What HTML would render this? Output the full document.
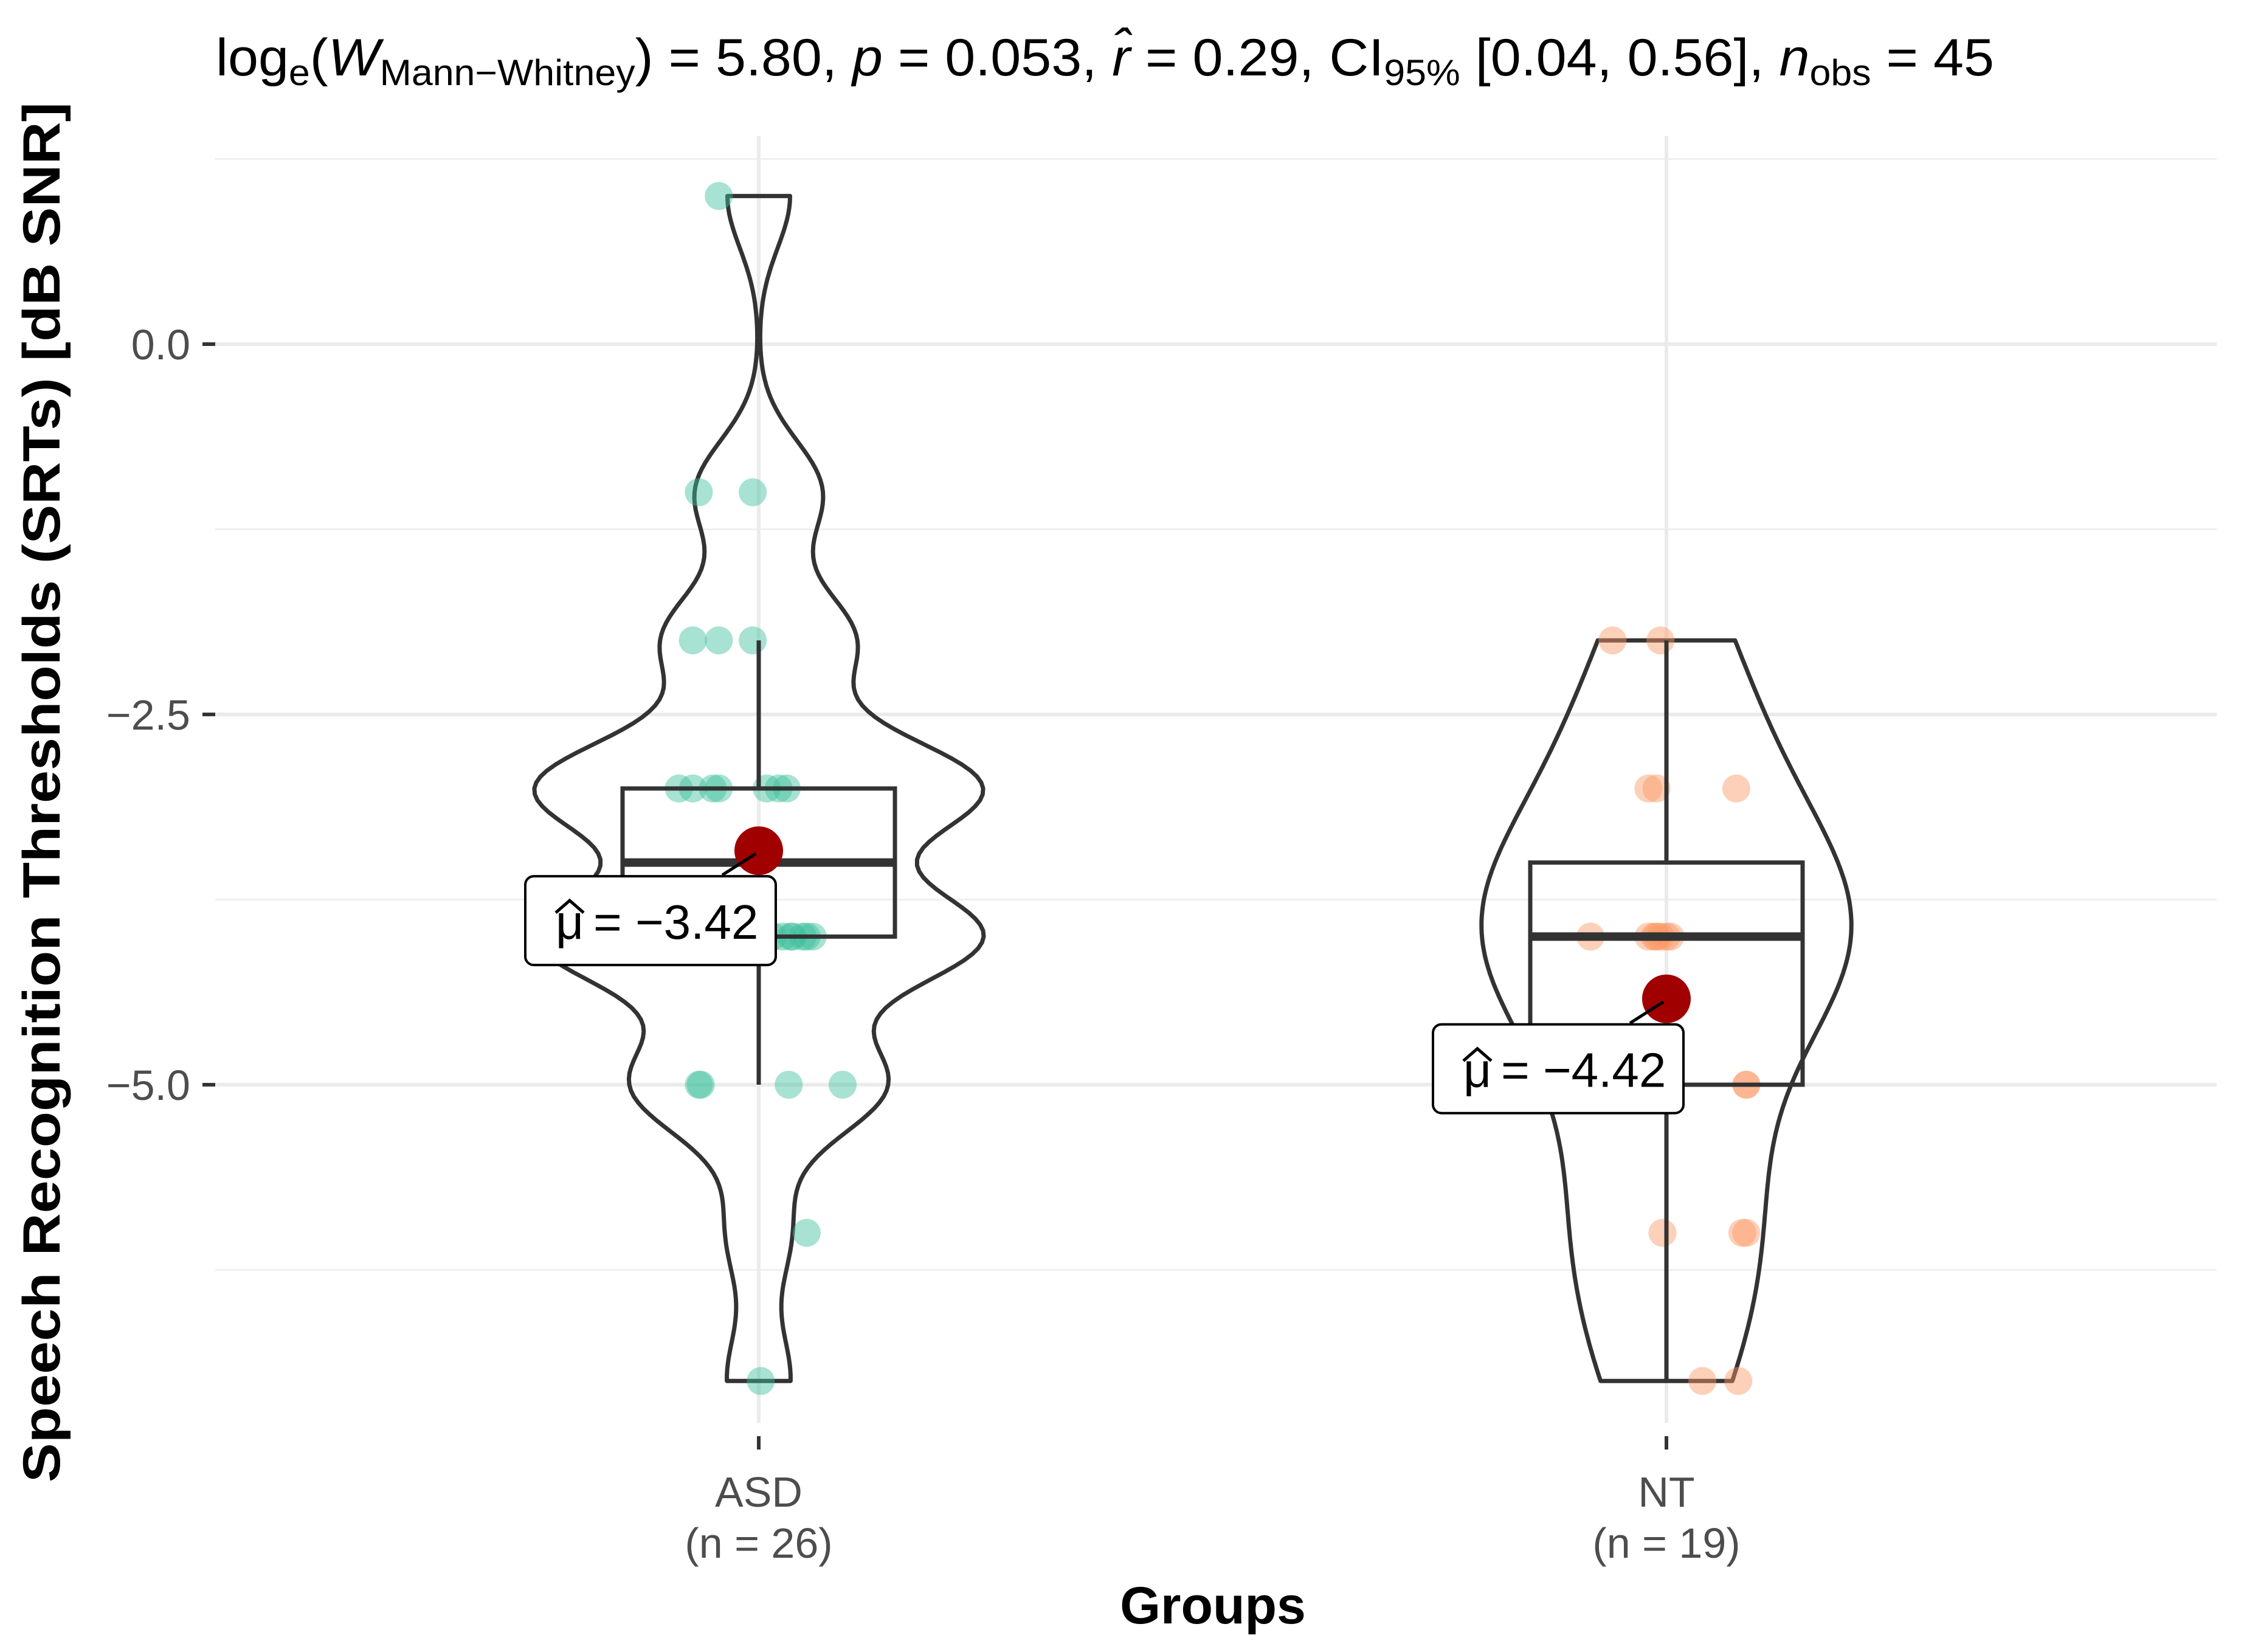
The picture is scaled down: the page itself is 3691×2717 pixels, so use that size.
<!DOCTYPE html>
<html><head><meta charset="utf-8"><style>
html,body{margin:0;padding:0;background:#fff}
svg{display:block}
text{font-family:"Liberation Sans",sans-serif}
</style></head><body>
<svg id="chart" width="3691" height="2717" viewBox="0 0 3691 2717" xmlns="http://www.w3.org/2000/svg">
<g id="grid"></g>
<g id="marks"></g>
<text x="355" y="124" font-size="86" fill="#000" textLength="2925" lengthAdjust="spacingAndGlyphs">log<tspan font-size="60" dy="16">e</tspan><tspan dy="-16">(</tspan><tspan font-style="italic">W</tspan><tspan font-size="60" dy="16">Mann−Whitney</tspan><tspan dy="-16">) = 5.80, </tspan><tspan font-style="italic">p</tspan> = 0.053, <tspan font-style="italic">r̂</tspan> = 0.29, CI<tspan font-size="60" dy="16">95%</tspan><tspan dy="-16"> [0.04, 0.56], </tspan><tspan font-style="italic">n</tspan><tspan font-size="60" dy="16">obs</tspan><tspan dy="-16"> = 45</tspan></text>
<text transform="translate(98,1303) rotate(-90)" text-anchor="middle" font-size="86" font-weight="bold" textLength="2270" lengthAdjust="spacingAndGlyphs">Speech Recognition Thresholds (SRTs) [dB SNR]</text>
<text x="1995" y="2670" text-anchor="middle" font-size="86" font-weight="bold">Groups</text>
</svg>
<script>
const categories = ["ASD", "NT"];
const groupN = [26, 19];
const asdValues = [1, -1, -1, -2, -2, -2, -3, -3, -3, -3, -3, -3, -3, -4, -4, -4, -4, -4, -4, -4, -5, -5, -5, -5, -6, -7];
const asdJitter = [-0.02, -0.03, -0.003, -0.033, -0.02, -0.003, -0.04, -0.033, -0.023, -0.02, 0.004, 0.01, 0.014, 0.007, 0.012, 0.017, 0.024, 0.027, 0.022, 0.016, -0.03, -0.029, 0.015, 0.042, 0.024, 0.001];
const ntValues = [-2, -2, -3, -3, -3, -4, -4, -4, -4, -4, -4, -4, -5, -5, -6, -6, -6, -7, -7];
const ntJitter = [-0.027, -0.003, -0.009, -0.005, 0.035, -0.038, -0.009, -0.005, 0, -0.003, -0.006, 0.002, 0.04, 0.04, -0.002, 0.04, 0.038, 0.018, 0.036];
const boxQ1 = [-4, -5];
const boxMedian = [-3.5, -4];
const boxQ3 = [-3, -3.5];
const whiskerLow = [-5, -7];
const whiskerHigh = [-2, -2];
const means = [-3.42, -4.42];
const meanLabels = ["−3.42", "−4.42"];
const yTicks = [0, -2.5, -5];
const yTickLabels = ["0.0", "−2.5", "−5.0"];
const yMinor = [1.25, -1.25, -3.75, -6.25];

const NS = "http://www.w3.org/2000/svg";
const X0 = 1248, XSTEP = 1493;
function xScale(i){ return X0 + i * XSTEP; }
function yScale(v){ return 566 - 243.6 * v; }
const JITTER_PX = 3285;
function mk(tag, attrs, parent){ const e = document.createElementNS(NS, tag); for (const k in attrs) e.setAttribute(k, attrs[k]); parent.appendChild(e); return e; }
const grid = document.getElementById('grid'), marks = document.getElementById('marks');
const PL = 354, PR = 3646;

yMinor.forEach(v => {
  const l = mk('line', {x1: PL, x2: PR, y1: yScale(v), y2: yScale(v), stroke: '#efefef', 'stroke-width': 3}, grid);
  
  
});
yTicks.forEach((v, i) => {
  const l = mk('line', {x1: PL, x2: PR, y1: yScale(v), y2: yScale(v), stroke: '#ebebeb', 'stroke-width': 6}, grid);
  
  
  const t = mk('line', {x1: 333, x2: 354, y1: yScale(v), y2: yScale(v), stroke: '#333', 'stroke-width': 6}, grid);
  
  
  const tx = mk('text', {x: 313, y: yScale(v) + 25, 'text-anchor': 'end', 'font-size': 70, fill: '#4d4d4d'}, grid);
  tx.textContent = yTickLabels[i];
  
  
});
categories.forEach((c, i) => {
  const x = xScale(i);
  const l = mk('line', {x1: x, x2: x, y1: 224, y2: 2340, stroke: '#ebebeb', 'stroke-width': 6}, grid);
  
  
  const t = mk('line', {x1: x, x2: x, y1: 2362, y2: 2384, stroke: '#333', 'stroke-width': 6}, grid);
  
  
  const a = mk('text', {x: x, y: 2478, 'text-anchor': 'middle', 'font-size': 70, fill: '#4d4d4d'}, grid);
  a.textContent = c;
  
  
  const b = mk('text', {x: x, y: 2562, 'text-anchor': 'middle', 'font-size': 70, fill: '#4d4d4d'}, grid);
  b.textContent = '(n = ' + groupN[i] + ')';
  
  
});

function kde(vals){
  const n = vals.length, m = vals.reduce((a, b) => a + b, 0) / n;
  const sd = Math.sqrt(vals.reduce((a, b) => a + (b - m) * (b - m), 0) / (n - 1));
  const s = vals.slice().sort((a, b) => a - b);
  const q = p => { const h = (n - 1) * p, lo = Math.floor(h); return s[lo] + (h - lo) * ((s[lo + 1] ?? s[lo]) - s[lo]); };
  const iqr = q(0.75) - q(0.25);
  const bw = 0.9 * Math.min(sd, iqr / 1.34) * Math.pow(n, -0.2);
  const lo = s[0], hi = s[n - 1], pts = [];
  for (let k = 0; k <= 200; k++) {
    const y = lo + (hi - lo) * k / 200;
    let d = 0; vals.forEach(v => { const z = (y - v) / bw; d += Math.exp(-0.5 * z * z); });
    pts.push([y, d / (n * bw * Math.sqrt(2 * Math.PI))]);
  }
  return pts;
}
const groupValues = [asdValues, ntValues];
const groupJitter = [asdJitter, ntJitter];
const dens = groupValues.map(kde);
const maxD = Math.max(...dens.map(p => Math.max(...p.map(q => q[1]))));
dens.forEach((p, i) => {
  const cx = xScale(i);
  const w = d => d / maxD * 370;
  let path = p.map((q, k) => (k ? 'L' : 'M') + (cx + w(q[1])).toFixed(1) + ',' + yScale(q[0]).toFixed(1)).join('');
  path += p.slice().reverse().map(q => 'L' + (cx - w(q[1])).toFixed(1) + ',' + yScale(q[0]).toFixed(1)).join('') + 'Z';
  const e = mk('path', {d: path, fill: 'none', stroke: '#333', 'stroke-width': 7, 'stroke-linejoin': 'round'}, marks);
  
  
});
const pointColors = ['rgba(60,190,155,0.45)', 'rgba(250,150,100,0.45)'];
groupValues.forEach((vals, i) => {
  vals.forEach((v, k) => {
    const c = mk('circle', {cx: xScale(i) + groupJitter[i][k] * JITTER_PX, cy: yScale(v), r: 23, fill: pointColors[i]}, marks);
    
    
  });
});
categories.forEach((c, i) => {
  const cx = xScale(i), hw = 224;
  const g = mk('g', {}, marks);
  
  
  mk('line', {x1: cx, x2: cx, y1: yScale(whiskerHigh[i]), y2: yScale(boxQ3[i]), stroke: '#333', 'stroke-width': 7}, g);
  mk('line', {x1: cx, x2: cx, y1: yScale(boxQ1[i]), y2: yScale(whiskerLow[i]), stroke: '#333', 'stroke-width': 7}, g);
  mk('rect', {x: cx - hw, y: yScale(boxQ3[i]), width: 2 * hw, height: yScale(boxQ1[i]) - yScale(boxQ3[i]), fill: 'none', stroke: '#333', 'stroke-width': 7}, g);
  mk('line', {x1: cx - hw, x2: cx + hw, y1: yScale(boxMedian[i]), y2: yScale(boxMedian[i]), stroke: '#333', 'stroke-width': 14}, g);
});
categories.forEach((c, i) => {
  const cx = xScale(i), cy = yScale(means[i]);
  const m = mk('circle', {cx: cx, cy: cy, r: 40, fill: '#a00000'}, marks);
  
  
  const ln = mk('line', {x1: cx - 5, y1: cy + 5, x2: cx - 60, y2: cy + 40, stroke: '#000', 'stroke-width': 5}, marks);
  
  
  const bx = cx - 384, by = cy + 42;
  const r = mk('rect', {x: bx, y: by, width: 412, height: 146, rx: 14, fill: '#fff', stroke: '#000', 'stroke-width': 4}, marks);
  
  
  const mu = mk('text', {x: bx + 50, y: by + 103, 'font-size': 80, fill: '#000'}, marks);
  mu.textContent = 'μ';
  
  
  const hat = mk('polyline', {points: (bx + 50) + ',' + (by + 60) + ' ' + (bx + 73) + ',' + (by + 40) + ' ' + (bx + 96) + ',' + (by + 60), fill: 'none', stroke: '#000', 'stroke-width': 5}, marks);
  
  
  const t = mk('text', {x: bx + 112, y: by + 103, 'font-size': 80, fill: '#000'}, marks);
  t.textContent = '= ' + meanLabels[i];
  
  
});
</script>
</body></html>
